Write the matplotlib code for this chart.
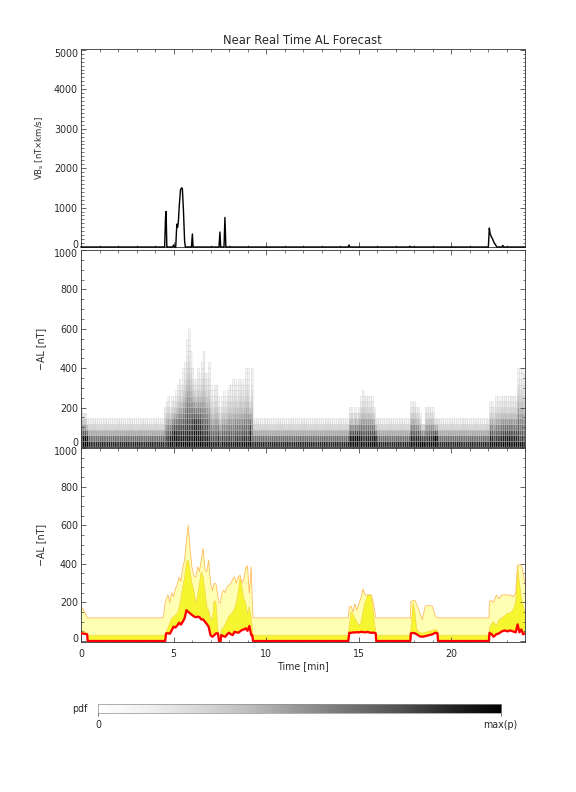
import numpy as np
import matplotlib
matplotlib.use("Agg")
import matplotlib.pyplot as plt
import matplotlib.transforms as mtransforms
from matplotlib.ticker import MultipleLocator

# ---------------- data ----------------
# Panel 1: VBs [nT x km/s]
vbs_t = [0.0, 4.52, 4.57, 4.6, 4.64, 4.68, 4.95, 5.0, 5.05, 5.12, 5.18, 5.22, 5.26,
         5.32, 5.38, 5.44, 5.48, 5.54, 5.6, 5.64, 5.97, 6.02, 6.06, 7.46, 7.51, 7.55,
         7.73, 7.78, 7.83, 14.44, 14.49, 14.54, 17.74, 17.78, 17.82, 22.02, 22.07,
         22.12, 22.18, 22.25, 22.32, 22.4, 22.48, 22.75, 22.8, 22.85, 24.0]
vbs_v = [0, 0, 750, 900, 0, 0, 0, 50, 0, 0, 580, 500, 620,
         1100, 1450, 1500, 1480, 900, 150, 0, 0, 330, 0, 0, 380, 0,
         0, 750, 0, 0, 50, 0, 0, 20, 0, 0, 480,
         330, 260, 200, 120, 60, 0, 0, 40, 0, 0]

# Panel 2/3: AL forecast statistics at knot times [min]
t_knot = [0.0, 0.15, 0.33, 0.36, 4.45, 4.55, 4.6, 4.7, 4.8, 4.9, 5.0, 5.1, 5.2, 5.3, 5.4,
          5.5, 5.6, 5.7, 5.8, 5.9, 6.0, 6.1, 6.2, 6.3, 6.4, 6.5, 6.6, 6.7, 6.8, 6.9,
          7.0, 7.1, 7.2, 7.3, 7.4, 7.46, 7.55, 7.58, 7.7, 7.8, 7.9, 8.0, 8.1, 8.2, 8.3,
          8.4, 8.5, 8.6, 8.7, 8.8, 8.9, 9.0, 9.1, 9.2, 9.26, 9.3,
          14.45, 14.5, 14.6, 14.7, 14.8, 14.9, 15.05, 15.15, 15.25, 15.35, 15.5, 15.68,
          15.8, 15.93, 15.96,
          17.8, 17.83, 17.95, 18.05, 18.15, 18.3, 18.45, 18.6, 18.8, 19.0, 19.15, 19.27, 19.3,
          22.05, 22.08, 22.2, 22.3, 22.45, 22.6, 22.75, 22.9, 23.05, 23.2, 23.35, 23.5,
          23.6, 23.7, 23.8, 23.9, 24.0]
al_median = [40, 38, 35, 0, 0, 0, 40, 40, 38, 55, 74, 70, 80, 95, 85,
             100, 118, 160, 150, 143, 135, 128, 123, 126, 124, 112, 112, 100, 88, 74,
             30, 22, 30, 40, 40, 0, 0, 31, 25, 22, 35, 43, 35, 31, 48,
             45, 43, 50, 57, 60, 66, 53, 78, 31, 30, 0,
             0, 43, 42, 45, 44, 46, 45, 48, 46, 45, 47, 42,
             44, 40, 0,
             0, 40, 42, 40, 35, 25, 22, 25, 30, 35, 43, 40, 0,
             0, 43, 35, 22, 35, 40, 50, 55, 50, 55, 50, 45,
             86, 45, 60, 35, 40]
al_q75 = [55, 50, 40, 30, 30, 32, 45, 70, 95, 118, 125, 135, 143, 170, 220,
          281, 330, 411, 420, 359, 300, 264, 197, 230, 300, 359, 333, 264, 178, 160,
          120, 110, 210, 200, 60, 25, 30, 60, 70, 90, 110, 130, 140, 150, 170,
          200, 260, 330, 280, 220, 200, 140, 180, 120, 60, 30,
          30, 80, 152, 140, 120, 100, 80, 100, 160, 200, 238, 238,
          150, 45, 30,
          30, 60, 200, 150, 60, 45, 40, 45, 50, 55, 60, 55, 30,
          30, 70, 90, 100, 80, 110, 120, 130, 145, 145, 160, 200,
          390, 300, 225, 180, 150]
al_q95 = [180, 160, 125, 120, 120, 200, 215, 240, 200, 250, 230, 270, 290, 330, 310,
          380, 420, 520, 600, 470, 380, 340, 330, 385, 360, 420, 480, 370, 360, 420,
          300, 260, 300, 296, 230, 200, 197, 240, 264, 250, 281, 290, 299, 320, 333,
          300, 330, 342, 300, 320, 380, 389, 247, 385, 200, 120,
          120, 178, 180, 150, 192, 160, 200, 230, 270, 240, 238, 240,
          200, 122, 120,
          120, 204, 210, 210, 190, 150, 110, 180, 185, 180, 130, 120, 120,
          120, 204, 210, 200, 238, 220, 238, 240, 238, 238, 230, 250,
          394, 394, 394, 350, 300]

x_ticks = [0, 5, 10, 15, 20]
vbs_yticks = [0, 1000, 2000, 3000, 4000, 5000]
al_yticks = [0, 200, 400, 600, 800, 1000]
pdf_labels = ["0", "max(p)"]

# ---------------- style ----------------
TXT = "#2a2a2a"
AX = "#404040"
plt.rcParams.update({
    "font.family": ["DejaVu Sans"],
    "font.size": 9.5,
    "text.color": TXT,
    "axes.edgecolor": AX,
    "axes.linewidth": 0.9,
    "xtick.color": AX,
    "ytick.color": AX,
    "xtick.labelcolor": TXT,
    "ytick.labelcolor": TXT,
})

W, H = 576, 792
fig = plt.figure(figsize=(W / 72, H / 72), dpi=72)


def box(x0, y0, x1, y1):
    return [x0 / W, 1 - y1 / H, (x1 - x0) / W, (y1 - y0) / H]


ax1 = fig.add_axes(box(81, 49, 525, 247))
ax2 = fig.add_axes(box(81, 250, 525, 447))
ax3 = fig.add_axes(box(81, 448, 525, 642))


def shift(px):
    return mtransforms.ScaledTranslation(0, px / 72, fig.dpi_scale_trans)


def style(ax, yticks, ymin, xlabels, lift_bottom=3):
    ax.set_xlim(0, 24)
    ax.xaxis.set_major_locator(MultipleLocator(5))
    ax.xaxis.set_minor_locator(MultipleLocator(1))
    ax.set_yticks(yticks)
    ax.yaxis.set_minor_locator(MultipleLocator(ymin))
    ax.tick_params(which="both", direction="in", top=True, right=True)
    ax.tick_params(which="major", length=5, width=0.8)
    ax.tick_params(which="minor", length=2.5, width=0.7)
    ax.tick_params(axis="y", pad=3)
    ax.tick_params(axis="x", pad=7)
    if not xlabels:
        ax.tick_params(axis="x", labelbottom=False)
    labs = ax.get_yticklabels()
    labs[0].set_transform(labs[0].get_transform() + shift(lift_bottom))
    labs[-1].set_transform(labs[-1].get_transform() + shift(-3))


# Panel 1
ax1.plot(vbs_t, vbs_v, color="black", lw=1.4, clip_on=False, zorder=3)
ax1.set_ylim(0, 5020)
style(ax1, vbs_yticks, 100, False)
ax1.set_ylabel("VB$_\\mathrm{s}$ [nT\u00d7km/s]", color=TXT, fontsize=8.5)
ax1.yaxis.set_label_coords(-0.079, 0.5)

# Panel 2: pdf heat map derived from the forecast statistics
tk = np.array(t_knot)
med = np.array(al_median, float)
q95 = np.array(al_q95, float)
al_edges = np.linspace(0, 1000, 36)
al_c = 0.5 * (al_edges[:-1] + al_edges[1:])
col_edges = np.arange(0, 24.001, 0.1)
col_c = 0.5 * (col_edges[:-1] + col_edges[1:])
idx = np.clip(np.searchsorted(tk, col_c, side="right") - 1, 0, len(tk) - 1)
m = med[idx][None, :]
top = q95[idx][None, :]
yc = al_c[:, None]
lo = al_edges[:-1][:, None]
span = top - m + 30
spread = np.clip((150 / span) ** 0.35, 0.55, 1)
above = spread * np.clip(1 - (yc - m) / span, 0, 1) ** 1.3
below = spread + (1 - spread) * np.clip(1 - yc / np.maximum(m, 1), 0, 1)
dens = np.where(yc <= m, below, above)
dens = np.where(lo < top, np.maximum(dens, 0.07), 0)
dens = np.ma.masked_where(dens <= 0, dens)
ax2.pcolor(col_edges, al_edges, dens, cmap="Greys", vmin=0, vmax=1,
           edgecolors="#c4c4c4", linewidth=0.3)
ax2.set_ylim(0, 1000)
style(ax2, al_yticks, 50, False, lift_bottom=5)
ax2.set_ylabel("\u2212AL [nT]", color=TXT)
ax2.yaxis.set_label_coords(-0.079, 0.5)

# Panel 3: forecast bands
q75 = np.array(al_q75, float)
pale_x = np.concatenate([tk, tk[::-1]])
ax3.fill(pale_x, np.concatenate([q95, med[::-1]]), color="#FFFFB4", lw=0)
ax3.fill(pale_x, np.concatenate([q75, med[::-1]]), color="#F5F530", lw=0)
ax3.plot(tk, q95, color="#FFB85A", lw=0.8)
ax3.plot(tk, q75, color="#F7D04A", lw=0.6)
ax3.plot(tk, med, color="#FF0000", lw=2.3, zorder=4)
ax3.set_ylim(-5, 1000)
style(ax3, al_yticks, 50, True)
ax3.set_xticks(x_ticks)
ax3.set_ylabel("\u2212AL [nT]", color=TXT)
ax3.yaxis.set_label_coords(-0.079, 0.5)
ax3.set_xlabel("Time [min]", color=TXT)
ax3.xaxis.set_label_coords(0.5, -0.1)
ax3.xaxis.label.set_va("top")

# Title
fig.text(302 / W, 1 - 40 / H, "Near Real Time AL Forecast", ha="center",
         va="center", fontsize=11.5, color=TXT)

# pdf colour bar
cax = fig.add_axes(box(98, 704, 501, 713))
cax.imshow(np.linspace(0, 1, 256)[None, :], aspect="auto", cmap="Greys",
           extent=[0, 1, 0, 1])
cax.set_xlim(0, 1)
cax.set_yticks([])
cax.set_xticks([0, 1])
cax.set_xticklabels([])
cax.tick_params(axis="x", direction="out", length=3, width=0.7)
for s in cax.spines.values():
    s.set_color("#909090")
    s.set_linewidth(0.7)
fig.text(80 / W, 1 - 709 / H, "pdf", ha="center", va="center", fontsize=9.5)
fig.text(98 / W, 1 - 725 / H, pdf_labels[0], ha="center", va="center", fontsize=9.5)
fig.text(500 / W, 1 - 725 / H, pdf_labels[1], ha="center", va="center", fontsize=9.5)

fig.savefig("out.png", dpi=72, facecolor="white")
